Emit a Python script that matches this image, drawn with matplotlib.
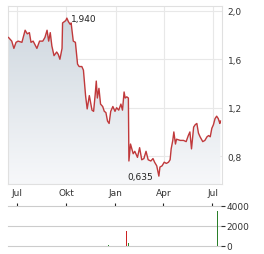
import matplotlib
matplotlib.use("Agg")
import matplotlib.pyplot as plt
import matplotlib.dates as mdates
from matplotlib.ticker import FuncFormatter
import numpy as np
import pandas as pd

dates = ["2023-06-15", "2023-06-21", "2023-06-25", "2023-06-29", "2023-07-03", "2023-07-10",
         "2023-07-16", "2023-07-20", "2023-07-24", "2023-07-27", "2023-07-31", "2023-08-07",
         "2023-08-12", "2023-08-18", "2023-08-22", "2023-08-26", "2023-08-29", "2023-09-01",
         "2023-09-04", "2023-09-08", "2023-09-13", "2023-09-16", "2023-09-19", "2023-09-23",
         "2023-09-24", "2023-09-27", "2023-09-30", "2023-10-02", "2023-10-05", "2023-10-08",
         "2023-10-10", "2023-10-14", "2023-10-18", "2023-10-22", "2023-10-25", "2023-10-30",
         "2023-11-02", "2023-11-06", "2023-11-09", "2023-11-13", "2023-11-18", "2023-11-21",
         "2023-11-24", "2023-11-26", "2023-11-28", "2023-12-01", "2023-12-04", "2023-12-08",
         "2023-12-11", "2023-12-14", "2023-12-17", "2023-12-20", "2023-12-23", "2023-12-27",
         "2023-12-31", "2024-01-03", "2024-01-07", "2024-01-11", "2024-01-14", "2024-01-17",
         "2024-01-19", "2024-01-22", "2024-01-25", "2024-01-26", "2024-01-29", "2024-02-03",
         "2024-02-06", "2024-02-11", "2024-02-15", "2024-02-19", "2024-02-23", "2024-02-27",
         "2024-03-02", "2024-03-07", "2024-03-11", "2024-03-14", "2024-03-18", "2024-03-22",
         "2024-03-24", "2024-03-28", "2024-04-01", "2024-04-05", "2024-04-09", "2024-04-12",
         "2024-04-14", "2024-04-17", "2024-04-19", "2024-04-22", "2024-04-24", "2024-05-01",
         "2024-05-07", "2024-05-12", "2024-05-16", "2024-05-19", "2024-05-22", "2024-05-26",
         "2024-05-29", "2024-06-01", "2024-06-04", "2024-06-07", "2024-06-12", "2024-06-16",
         "2024-06-20", "2024-06-23", "2024-06-26", "2024-06-29", "2024-07-02", "2024-07-05",
         "2024-07-08", "2024-07-11", "2024-07-14", "2024-07-15"]
price = [1.78, 1.75, 1.69, 1.74, 1.75, 1.74,
         1.84, 1.81, 1.82, 1.74, 1.75, 1.69,
         1.75, 1.75, 1.78, 1.84, 1.75, 1.82,
         1.71, 1.63, 1.66, 1.64, 1.60, 1.69,
         1.90, 1.91, 1.92, 1.94, 1.91, 1.89,
         1.90, 1.75, 1.74, 1.56, 1.54, 1.54,
         1.51, 1.30, 1.19, 1.30, 1.18, 1.17,
         1.31, 1.42, 1.28, 1.36, 1.23, 1.21,
         1.17, 1.16, 1.09, 1.07, 1.17, 1.21,
         1.17, 1.20, 1.18, 1.23, 1.18, 1.33,
         1.28, 1.29, 1.28, 0.76, 0.90, 0.82,
         0.84, 0.79, 0.87, 0.77, 0.78, 0.84,
         0.77, 0.76, 0.78, 0.75, 0.72, 0.635,
         0.71, 0.72, 0.75, 0.74, 0.75, 0.77,
         0.86, 0.93, 1.00, 0.90, 0.94, 0.93,
         0.93, 0.92, 0.97, 1.00, 0.86, 1.04,
         1.06, 1.07, 0.99, 0.96, 0.92, 0.93,
         0.96, 0.97, 0.96, 1.03, 1.06, 1.11,
         1.13, 1.11, 1.07, 1.09]

vol_dates = ["2023-12-20", "2024-01-22", "2024-01-26", "2024-07-12"]
vol = [150, 1500, 300, 3500]
vol_colors = ["#2e8b2e", "#cc2222", "#2e8b2e", "#2a7f2a"]

tick_dates = ["2023-07-01", "2023-10-01", "2024-01-01", "2024-04-01", "2024-07-01"]
tick_labels = ["Jul", "Okt", "Jan", "Apr", "Jul"]

x = pd.to_datetime(dates)
xv = pd.to_datetime(vol_dates)
xt = pd.to_datetime(tick_dates)
xlim = (pd.Timestamp("2023-06-14"), pd.Timestamp("2024-07-18"))
ylim = (0.57, 2.04)

fig = plt.figure(figsize=(2.64, 2.55), dpi=100)
ax = fig.add_axes([8 / 264, 1 - 185 / 255, 214 / 264, 178 / 255])
axv = fig.add_axes([8 / 264, 1 - 247 / 255, 213 / 264, 40 / 255])

# gradient fill under the line
xn = mdates.date2num(x)
grad = np.linspace(0, 1, 256).reshape(-1, 1)
cmap = matplotlib.colors.LinearSegmentedColormap.from_list("g", ["#f7f8fa", "#ccd5dd"])
im = ax.imshow(grad, cmap=cmap, aspect="auto", origin="lower",
               extent=[mdates.date2num(xlim[0]), mdates.date2num(xlim[1]), ylim[0], ylim[1]], zorder=1)
poly = ax.fill_between(xn, price, ylim[0], color="none")
clip = poly.get_paths()[0]
im.set_clip_path(clip, transform=ax.transData)
ax.plot(xn, price, color="#c0393b", lw=1.0, zorder=3)

ax.set_xlim(mdates.date2num(xlim[0]), mdates.date2num(xlim[1]))
ax.set_ylim(*ylim)
ax.set_xticks(mdates.date2num(xt))
ax.set_xticklabels(tick_labels)
ax.set_yticks([0.8, 1.2, 1.6, 2.0])
ax.yaxis.set_major_formatter(FuncFormatter(lambda v, p: f"{v:.1f}".replace(".", ",")))
ax.yaxis.tick_right()
ax.tick_params(length=0, labelsize=6.5, colors="#333333")
ax.tick_params(axis="y", pad=4)
ax.tick_params(axis="x", pad=3)
ax.grid(color="#e8e8e8", lw=0.8, zorder=0)
ax.set_axisbelow(True)
for s in ax.spines.values():
    s.set_color("#e0e0e0")
    s.set_linewidth(0.8)

imax = int(np.argmax(price))
imin = int(np.argmin(price))
ax.annotate(f"{price[imax]:.3f}".replace(".", ","), (xn[imax], price[imax]),
            xytext=(3, 0), textcoords="offset points", ha="left", va="center",
            fontsize=6.5, color="#222222")
ax.annotate(f"{price[imin]:.3f}".replace(".", ","), (xn[imin], price[imin]),
            xytext=(-4, 0), textcoords="offset points", ha="right", va="center",
            fontsize=6.5, color="#222222")

# volume
axv.bar(mdates.date2num(xv), vol, width=1.2, color=vol_colors, zorder=3)
axv.set_xlim(mdates.date2num(xlim[0]), mdates.date2num(xlim[1]))
axv.set_ylim(0, 4000)
axv.set_yticks([0, 2000, 4000])
axv.yaxis.tick_right()
axv.tick_params(axis="y", length=3, labelsize=6.5, colors="#333333", pad=1)
axv.set_xticks(mdates.date2num(xt))
axv.xaxis.tick_top()
axv.tick_params(axis="x", length=2, direction="out", labeltop=False, color="#222222")
axv.grid(axis="y", color="#cccccc", lw=0.8)
for gl in axv.get_ygridlines():
    gl.set_clip_on(False)
axv.set_axisbelow(True)
for s in axv.spines.values():
    s.set_visible(False)

fig.savefig("out.png", dpi=100)
